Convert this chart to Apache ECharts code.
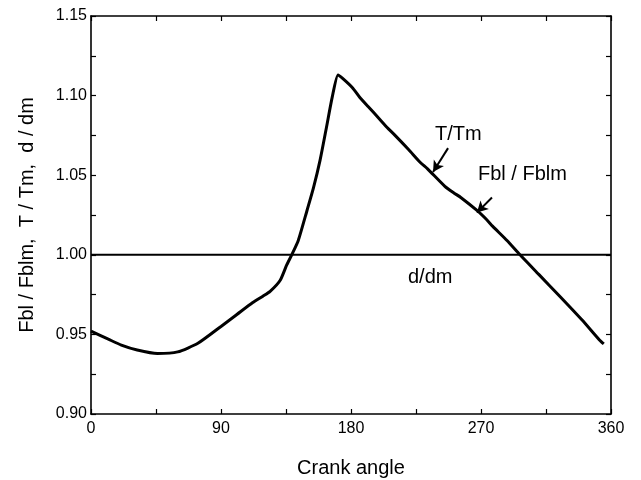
<!DOCTYPE html>
<html>
<head>
<meta charset="utf-8">
<script src="https://cdn.jsdelivr.net/npm/echarts@6/dist/echarts.min.js"></script>
<style>
  html, body { margin: 0; padding: 0; background: #fff; }
  #chart { width: 641px; height: 480px; }
</style>
</head>
<body>
<div id="chart"></div>
<script>
// Crank angle (deg) and normalised load / torque curve
const crankAngle = [0, 12, 21, 32, 46, 60, 74, 90, 101, 112, 119, 124, 131, 135.5, 139, 143.5, 149.6, 154, 158.6, 163, 167, 171, 174, 181, 186, 192, 200, 205, 210, 220, 228, 233, 245, 251, 256, 267, 274, 278, 288, 297, 310, 325, 340, 352, 355];
const fblRatio = [0.952, 0.947, 0.9433, 0.9402, 0.938, 0.939, 0.9444, 0.955, 0.9625, 0.970, 0.974, 0.977, 0.984, 0.9936, 1.000, 1.009, 1.028, 1.042, 1.0595, 1.080, 1.099, 1.113, 1.111, 1.105, 1.099, 1.093, 1.085, 1.080, 1.0755, 1.066, 1.058, 1.054, 1.043, 1.039, 1.036, 1.028, 1.022, 1.018, 1.009, 1.000, 0.9877, 0.9735, 0.959, 0.9465, 0.944];

// Diameter ratio stays constant over the cycle
const dAngle = [0, 360];
const dRatio = [1.0, 1.0];

// Axis ranges and labelled ticks
const xTicks = [0, 90, 180, 270, 360];
const yTicks = [0.90, 0.95, 1.00, 1.05, 1.10, 1.15];

// Annotation arrows: [start angle, start value, tip angle, tip value]
const arrowT = [247.2, 1.067, 236.8, 1.052];
const arrowF = [277.6, 1.036, 267.2, 1.0265];

const fontFam = 'Arial, "Liberation Sans", Helvetica, sans-serif';
const black = '#000';

const chart = echarts.init(document.getElementById('chart'));

// Every side of the frame carries inward ticks at half the labelled step
const tickCommon = {
  axisLine: { show: true, onZero: false, lineStyle: { color: black, width: 1.6 } },
  axisTick: { show: true, inside: true, length: 5, lineStyle: { color: black, width: 1.2 } },
  splitLine: { show: false }
};

const xLabel = v => (xTicks.indexOf(Math.round(v)) >= 0 ? String(Math.round(v)) : '');
const yLabel = v => {
  const hit = yTicks.find(t => Math.abs(t - v) < 1e-6);
  return hit === undefined ? '' : hit.toFixed(2);
};

function pairs(xs, ys) { return xs.map((x, i) => [x, ys[i]]); }

chart.setOption({
  animation: false,
  backgroundColor: '#fff',
  grid: { left: 91, right: 30, top: 16, bottom: 66, containLabel: false, outerBoundsMode: 'none' },
  xAxis: [
    Object.assign({
      type: 'value', position: 'bottom',
      min: xTicks[0], max: xTicks[xTicks.length - 1], interval: 45,
      name: 'Crank angle', nameLocation: 'middle', nameGap: 44,
      nameTextStyle: { color: black, fontSize: 20, fontFamily: fontFam },
      axisLabel: { color: black, fontSize: 16, fontFamily: fontFam, margin: 7, formatter: xLabel }
    }, tickCommon),
    Object.assign({
      type: 'value', position: 'top',
      min: xTicks[0], max: xTicks[xTicks.length - 1], interval: 45,
      axisLabel: { show: false }
    }, tickCommon)
  ],
  yAxis: [
    Object.assign({
      type: 'value', position: 'left',
      min: yTicks[0], max: yTicks[yTicks.length - 1], interval: 0.025,
      name: 'Fbl / Fblm,  T / Tm,  d / dm', nameLocation: 'middle', nameGap: 54,
      nameTextStyle: { color: black, fontSize: 20, fontFamily: fontFam },
      axisLabel: { color: black, fontSize: 16, fontFamily: fontFam, margin: 4, formatter: yLabel }
    }, tickCommon),
    Object.assign({
      type: 'value', position: 'right',
      min: yTicks[0], max: yTicks[yTicks.length - 1], interval: 0.025,
      axisLabel: { show: false }
    }, tickCommon)
  ],
  series: [
    {
      name: 'Fbl / Fblm', type: 'line', smooth: 0.2, showSymbol: false,
      data: pairs(crankAngle, fblRatio),
      lineStyle: { color: black, width: 3 },
      markLine: {
        silent: true, symbol: ['none', 'arrow'], symbolSize: [9, 11],
        lineStyle: { color: black, width: 2, type: 'solid' },
        label: { show: false },
        data: [
          [{ coord: [arrowT[0], arrowT[1]] }, { coord: [arrowT[2], arrowT[3]] }],
          [{ coord: [arrowF[0], arrowF[1]] }, { coord: [arrowF[2], arrowF[3]] }]
        ]
      }
    },
    {
      name: 'd / dm', type: 'line', showSymbol: false,
      data: pairs(dAngle, dRatio),
      lineStyle: { color: black, width: 2 }
    }
  ],
  graphic: [
    { type: 'text', left: 435, top: 124, style: { text: 'T/Tm', fill: black, font: '20px ' + fontFam } },
    { type: 'text', left: 478, top: 164, style: { text: 'Fbl / Fblm', fill: black, font: '20px ' + fontFam } },
    { type: 'text', left: 408, top: 267, style: { text: 'd/dm', fill: black, font: '20px ' + fontFam } }
  ]
});
</script>
</body>
</html>
